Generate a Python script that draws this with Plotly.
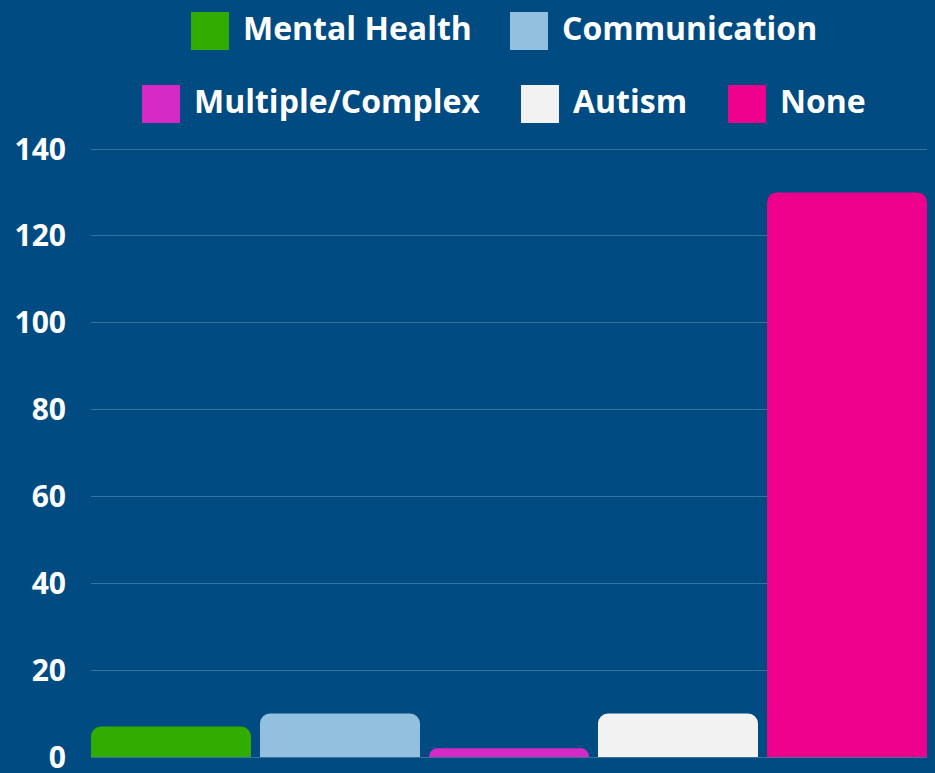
import plotly.graph_objects as go

categories = ["Mental Health", "Communication", "Multiple/Complex", "Autism", "None"]
values = [7, 10, 2, 10, 130]
colors = ["#31AD00", "#93C0DE", "#D62AC6", "#F2F2F2", "#EC008C"]
y_ticks = [0, 20, 40, 60, 80, 100, 120, 140]

W, H = 935, 773
L, R, T, B = 91, 8, 147, 14
BG = "#004B82"
FONT = "Open Sans"

fig = go.Figure()
fig.add_trace(go.Bar(
    x=categories, y=values,
    marker=dict(color=colors, line=dict(width=0)),
    showlegend=False, hoverinfo="x+y",
))

pw, ph = W - L - R, H - T - B
def px_to_paper(px, py):
    return (px - L) / pw, (H - B - py) / ph

# custom legend (large square swatches) — layout positions in pixels
legend_rows = [
    [(191, 0), (510, 1)],
    [(142, 2), (521, 3), (728, 4)],
]
row_centers = [31, 104]
sw = 38
shapes, annotations = [], []
for row, cy in zip(legend_rows, row_centers):
    for sx, idx in row:
        x0, y0 = px_to_paper(sx, cy - sw / 2)
        x1, y1 = px_to_paper(sx + sw, cy + sw / 2)
        shapes.append(dict(type="rect", xref="paper", yref="paper",
                           x0=x0, x1=x1, y0=y1, y1=y0,
                           fillcolor=colors[idx], line=dict(width=0)))
        tx, ty = px_to_paper(sx + sw + 12, cy - 4)
        annotations.append(dict(xref="paper", yref="paper", x=tx, y=ty,
                                xanchor="left", yanchor="middle",
                                text="<b>%s</b>" % categories[idx],
                                showarrow=False,
                                font=dict(family=FONT, size=32, color="white")))

bw = 0.9467
fig.update_layout(
    width=W, height=H,
    margin=dict(l=L, r=R, t=T, b=B, pad=0, autoexpand=False),
    paper_bgcolor=BG, plot_bgcolor=BG,
    bargap=1 - bw,
    barcornerradius=10,
    shapes=shapes, annotations=annotations,
    font=dict(family=FONT, color="white"),
    xaxis=dict(showticklabels=False, showgrid=False, zeroline=False,
               showline=False, ticks="", range=[-bw / 2, 4 + bw / 2],
               automargin=False),
    yaxis=dict(range=[-0.46, 140.46], tickvals=y_ticks,
               ticktext=["<b>%d</b>" % v for v in y_ticks],
               tickfont=dict(family=FONT, size=30, color="white"),
               showgrid=True, gridcolor="rgba(255,255,255,0.22)", gridwidth=1,
               zeroline=False, showline=False, ticks="",
               ticklabelstandoff=24, ticklabeloverflow="allow",
               automargin=False),
)

fig.write_html("out.html", config={"displayModeBar": False},
               post_script="document.body.style.margin='0';")
